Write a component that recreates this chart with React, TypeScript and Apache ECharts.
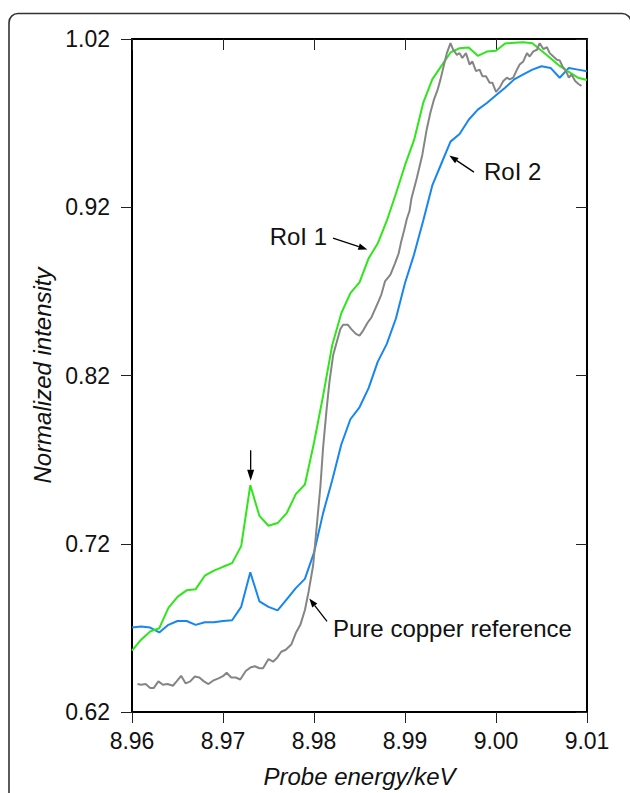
import React, { useEffect, useRef } from "react";
import * as echarts from "echarts";

// Probe energy grid (keV) for the two regions of interest
const energy = [
  8.960, 8.961, 8.962, 8.963, 8.964, 8.965, 8.966, 8.967, 8.968, 8.969,
  8.970, 8.971, 8.972, 8.973, 8.974, 8.975, 8.976, 8.977, 8.978, 8.979,
  8.980, 8.981, 8.982, 8.983, 8.984, 8.985, 8.986, 8.987, 8.988, 8.989,
  8.990, 8.991, 8.992, 8.993, 8.994, 8.995, 8.996, 8.997, 8.998, 8.999,
  9.000, 9.001, 9.002, 9.003, 9.004, 9.005, 9.006, 9.007, 9.008, 9.009,
  9.010,
];

// RoI 1 (green)
const roi1 = [
  0.6565, 0.6630, 0.6679, 0.6698, 0.6819, 0.6884, 0.6923, 0.6930, 0.7010, 0.7040,
  0.7063, 0.7085, 0.7186, 0.7548, 0.7366, 0.7307, 0.7323, 0.7382, 0.7495, 0.7552,
  0.7800, 0.8080, 0.8380, 0.8570, 0.8690, 0.8753, 0.8896, 0.8984, 0.9120, 0.9280,
  0.9450, 0.9600, 0.9820, 0.9960, 1.0040, 1.0120, 1.0145, 1.0150, 1.0100, 1.0125,
  1.0130, 1.0173, 1.0178, 1.0180, 1.0175, 1.0130, 1.0085, 1.0040, 1.0005, 0.9970,
  0.9956,
];

// RoI 2 (blue)
const roi2 = [
  0.6702, 0.6708, 0.6702, 0.6673, 0.6718, 0.6741, 0.6741, 0.6718, 0.6733, 0.6733,
  0.6741, 0.6745, 0.6825, 0.7030, 0.6858, 0.6825, 0.6804, 0.6870, 0.6936, 0.6991,
  0.7147, 0.7382, 0.7577, 0.7790, 0.7940, 0.8011, 0.8125, 0.8281, 0.8388, 0.8539,
  0.8750, 0.8920, 0.9120, 0.9330, 0.9460, 0.9590, 0.9635, 0.9720, 0.9780, 0.9820,
  0.9866, 0.9910, 0.9960, 0.9990, 1.0018, 1.0038, 1.0028, 0.9970, 1.0028, 1.0018,
  1.0008,
];

// Pure copper reference (grey), finer sampling
const copperEnergy = [
  8.9606, 8.9610, 8.9615, 8.9620, 8.9624, 8.9629, 8.9634, 8.9639, 8.9645, 8.9649,
  8.9654, 8.9659, 8.9664, 8.9669, 8.9674, 8.9679, 8.9684, 8.9689, 8.9695, 8.9700,
  8.9704, 8.9709, 8.9714, 8.9719, 8.9725, 8.9730, 8.9735, 8.9740, 8.9744, 8.9750,
  8.9755, 8.9759, 8.9764, 8.9769, 8.9775, 8.9780, 8.9785, 8.9790, 8.9794, 8.9799,
  8.9803, 8.9807, 8.9810, 8.9812, 8.9814, 8.9817, 8.9821, 8.9826, 8.9829, 8.9832,
  8.9837, 8.9841, 8.9846, 8.9850, 8.9854, 8.9859, 8.9863, 8.9867, 8.9871, 8.9874,
  8.9878, 8.9884, 8.9889, 8.9893, 8.9896, 8.9899, 8.9902, 8.9905, 8.9907, 8.9913,
  8.9919, 8.9924, 8.9928, 8.9932, 8.9936, 8.9939, 8.9942, 8.9946, 8.9950, 8.9953,
  8.9957, 8.9960, 8.9963, 8.9967, 8.9971, 8.9974, 8.9978, 8.9982, 8.9985, 8.9989,
  8.9993, 8.9996, 9.0000, 9.0004, 9.0008, 9.0012, 9.0015, 9.0019, 9.0023, 9.0026,
  9.0030, 9.0034, 9.0037, 9.0041, 9.0045, 9.0048, 9.0052, 9.0056, 9.0059, 9.0063,
  9.0067, 9.0070, 9.0073, 9.0077, 9.0080, 9.0083, 9.0087, 9.0091, 9.0094,
];
const copperIntensity = [
  0.6366, 0.6362, 0.6366, 0.6343, 0.6343, 0.6382, 0.6362, 0.6366, 0.6356, 0.6382,
  0.6415, 0.6370, 0.6382, 0.6411, 0.6405, 0.6382, 0.6366, 0.6386, 0.6400, 0.6413,
  0.6433, 0.6405, 0.6405, 0.6393, 0.6444, 0.6464, 0.6472, 0.6460, 0.6460, 0.6515,
  0.6499, 0.6519, 0.6558, 0.6570, 0.6601, 0.6669, 0.6718, 0.6806, 0.6913, 0.7069,
  0.7304, 0.7538, 0.7772, 0.7890, 0.8008, 0.8164, 0.8320, 0.8418, 0.8476, 0.8502,
  0.8502, 0.8476, 0.8447, 0.8437, 0.8467, 0.8515, 0.8544, 0.8593, 0.8642, 0.8681,
  0.8759, 0.8799, 0.8867, 0.8925, 0.9000, 0.9062, 0.9130, 0.9179, 0.9250, 0.9374,
  0.9511, 0.9667, 0.9765, 0.9843, 0.9901, 0.9960, 1.0028, 1.0116, 1.0175, 1.0136,
  1.0106, 1.0116, 1.0087, 1.0116, 1.0048, 1.0067, 1.0009, 1.0018, 0.9979, 0.9979,
  0.9940, 0.9940, 0.9886, 0.9911, 0.9950, 0.9970, 0.9960, 0.9970, 1.0018, 1.0048,
  1.0067, 1.0116, 1.0096, 1.0126, 1.0136, 1.0175, 1.0140, 1.0151, 1.0116, 1.0096,
  1.0077, 1.0073, 1.0038, 1.0009, 0.9970, 0.9989, 0.9950, 0.9931, 0.9921,
];

// Axis ranges / ticks
const xRange = [8.96, 9.01];
const xStep = 0.01;
const yRange = [0.62, 1.02];
const yStep = 0.1;

// Annotations (data coordinates)
const labels = [
  { text: "RoI 1", at: [8.98143, 0.9029], align: "right", tail: [8.98209, 0.9017], tip: [8.98586, 0.8949] },
  { text: "RoI 2", at: [8.99868, 0.9415], align: "left", tail: [8.99758, 0.9409], tip: [8.99487, 0.9507] },
  { text: "Pure copper reference", at: [8.98209, 0.6698], align: "left", tail: [8.98143, 0.6739], tip: [8.97948, 0.6875] },
];
const peakArrow = { tail: [8.97304, 0.7755], tip: [8.97304, 0.7575] };

const FONT = "'Liberation Sans', Arial, Helvetica, sans-serif";
const GREEN = "#2ee61a";
const BLUE = "#1786f0";
const GREY = "#858585";

function arrow(tail: number[], tip: number[], headLen = 9, headW = 3.2) {
  const dx = tip[0] - tail[0];
  const dy = tip[1] - tail[1];
  const len = Math.sqrt(dx * dx + dy * dy) || 1;
  const ux = dx / len;
  const uy = dy / len;
  const bx = tip[0] - ux * headLen;
  const by = tip[1] - uy * headLen;
  const px = -uy * headW;
  const py = ux * headW;
  return [
    {
      type: "line",
      shape: { x1: tail[0], y1: tail[1], x2: bx, y2: by },
      style: { stroke: "#000", lineWidth: 1.3 },
      silent: true,
    },
    {
      type: "polygon",
      shape: { points: [[tip[0], tip[1]], [bx + px, by + py], [bx - px, by - py]] },
      style: { fill: "#000" },
      silent: true,
    },
  ];
}

export default function App() {
  const ref = useRef<HTMLDivElement>(null);

  useEffect(() => {
    if (!ref.current) return;
    const chart = echarts.init(ref.current, undefined, { renderer: "svg" });

    const axisLine = { show: true, onZero: false, lineStyle: { color: "#000", width: 2 } };
    const tickStyle = { color: "#222", width: 1 };
    const labelStyle = { fontSize: 23, color: "#111", fontFamily: FONT };
    const nameStyle = { fontSize: 24, color: "#111", fontFamily: FONT, fontStyle: "italic" as const };

    chart.setOption({
      animation: false,
      backgroundColor: "#fff",
      grid: { left: 132, right: 43, top: 39, bottom: 71, containLabel: false },
      xAxis: [
        {
          type: "value", min: xRange[0], max: xRange[1], interval: xStep, position: "bottom",
          axisLine, axisTick: { show: true, inside: false, length: 11, lineStyle: tickStyle },
          axisLabel: { ...labelStyle, margin: 17, showMinLabel: true, showMaxLabel: true, formatter: (v: number) => v.toFixed(2) },
          splitLine: { show: false },
          name: "Probe energy/keV", nameLocation: "middle", nameGap: 52, nameTextStyle: nameStyle,
        },
        {
          type: "value", min: xRange[0], max: xRange[1], interval: xStep, position: "top",
          axisLine, axisTick: { show: true, inside: true, length: 11, lineStyle: tickStyle },
          axisLabel: { show: false }, splitLine: { show: false },
        },
      ],
      yAxis: [
        {
          type: "value", min: yRange[0], max: yRange[1], interval: yStep, position: "left",
          axisLine, axisTick: { show: true, inside: false, length: 11, lineStyle: tickStyle },
          axisLabel: { ...labelStyle, margin: 22, showMinLabel: true, showMaxLabel: true, formatter: (v: number) => v.toFixed(2) },
          splitLine: { show: false },
          name: "Normalized intensity", nameLocation: "middle", nameGap: 74, nameTextStyle: nameStyle,
        },
        {
          type: "value", min: yRange[0], max: yRange[1], interval: yStep, position: "right",
          axisLine, axisTick: { show: true, inside: true, length: 11, lineStyle: tickStyle },
          axisLabel: { show: false }, splitLine: { show: false },
        },
      ],
      series: [
        {
          name: "RoI 2", type: "line", xAxisIndex: 0, yAxisIndex: 0, showSymbol: false, symbol: "none",
          lineStyle: { color: BLUE, width: 2 }, itemStyle: { color: BLUE },
          data: energy.map((e, i) => [e, roi2[i]]), silent: true,
        },
        {
          name: "RoI 1", type: "line", xAxisIndex: 0, yAxisIndex: 0, showSymbol: false, symbol: "none",
          lineStyle: { color: GREEN, width: 2 }, itemStyle: { color: GREEN },
          data: energy.map((e, i) => [e, roi1[i]]), silent: true,
        },
        {
          name: "Pure copper reference", type: "line", xAxisIndex: 0, yAxisIndex: 0, showSymbol: false, symbol: "none",
          lineStyle: { color: GREY, width: 2 }, itemStyle: { color: GREY },
          data: copperEnergy.map((e, i) => [e, copperIntensity[i]]), silent: true,
        },
      ],
    });

    const toPx = (p: number[]) =>
      chart.convertToPixel({ xAxisIndex: 0, yAxisIndex: 0 }, p) as number[];

    const graphics: any[] = [
      {
        type: "rect",
        shape: { x: 9, y: 13.5, width: 622, height: 820, r: 9 },
        style: { fill: "none", stroke: "#333", lineWidth: 1.6 },
        silent: true,
        z: 0,
      },
    ];
    labels.forEach((l) => {
      const at = toPx(l.at);
      graphics.push({
        type: "text",
        x: at[0], y: at[1],
        style: { text: l.text, fill: "#111", font: `24px ${FONT}`, textAlign: l.align, textVerticalAlign: "middle" },
        silent: true,
      });
      graphics.push(...arrow(toPx(l.tail), toPx(l.tip)));
    });
    graphics.push(...arrow(toPx(peakArrow.tail), toPx(peakArrow.tip), 11, 3.5));

    chart.setOption({ graphic: graphics });

    return () => chart.dispose();
  }, []);

  return (
    <div
      ref={ref}
      style={{ position: "fixed", left: 0, top: 0, width: 630, height: 793, background: "#fff" }}
    />
  );
}
